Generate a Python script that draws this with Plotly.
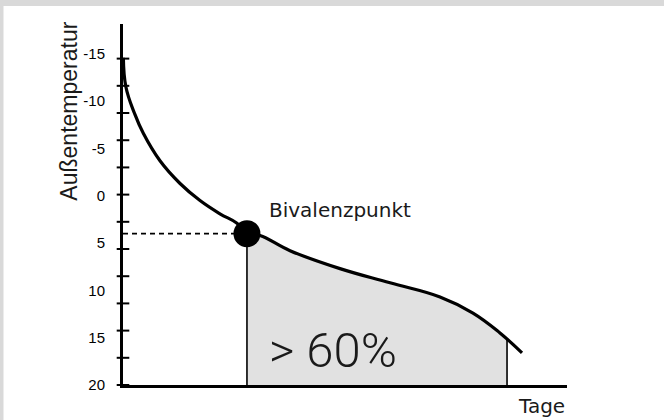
import numpy as np
import plotly.graph_objects as go

# ---- data ----
days = [0.3, 2.4, 9.5, 16.7, 30.4, 46.9, 63.3, 79.7, 93.7, 101.9, 112.6, 137.3,
        178.4, 219.5, 260.6, 287.7, 309.9, 328.0]
temps = [-14.6, -11.5, -8.7, -6.6, -3.7, -1.3, 0.5, 1.9, 2.9, 4.0, 4.2, 5.8,
         7.7, 9.2, 10.7, 12.4, 14.5, 16.6]
y_tick_values = [-15, -10, -5, 0, 5, 10, 15, 20]
y_tick_labels = ["-15", "-10", "-5", "0", "5", "10", "15", "20"]
y_tick_marks = [20, 17.125, 14.25, 11.375, 8.5, 5.625, 2.75, -0.125, -3.0,
                -5.875, -8.75, -11.625, -14.5]
bival_day = 101.9
bival_temp = 4.0
share_end_day = 315.7
share_label = "> 60%"
share_label_pos = (173, 16.35)
bival_label = "Bivalenzpunkt"
bival_label_pos = (118.4, 1.5)
x_range = [0, 365]
y_range = [20, -18.16]
x_title = "Tage"
y_title = "Außentemperatur"

days_a = np.array(days)
temps_a = np.array(temps)
end_temp = float(np.interp(share_end_day, days_a, temps_a))
inside = (days_a > bival_day) & (days_a < share_end_day)
fill_x = [bival_day] + list(days_a[inside]) + [share_end_day]
fill_y = [bival_temp] + list(temps_a[inside]) + [end_temp]

SMOOTH = 1.2

fig = go.Figure()

# baseline for shaded area
fig.add_trace(go.Scatter(x=[bival_day, share_end_day], y=[y_range[0], y_range[0]],
                         mode="lines", line=dict(width=0, color="rgba(0,0,0,0)"),
                         hoverinfo="skip", showlegend=False))
fig.add_trace(go.Scatter(x=fill_x, y=fill_y, mode="lines",
                         line=dict(width=0, shape="spline", smoothing=SMOOTH, color="rgba(0,0,0,0)"),
                         fill="tonexty", fillcolor="#e1e1e1",
                         hoverinfo="skip", showlegend=False))

# vertical edges
fig.add_trace(go.Scatter(x=[bival_day, bival_day], y=[bival_temp, y_range[0]], mode="lines",
                         line=dict(width=1.6, color="black"), showlegend=False))
fig.add_trace(go.Scatter(x=[share_end_day, share_end_day], y=[end_temp, y_range[0]], mode="lines",
                         line=dict(width=1.6, color="black"), showlegend=False))

# dashed line to the axis
fig.add_trace(go.Scatter(x=[x_range[0], bival_day], y=[bival_temp, bival_temp], mode="lines",
                         line=dict(width=1.6, color="black", dash="5px,4px"), showlegend=False))

# curve
fig.add_trace(go.Scatter(x=days, y=temps, mode="lines",
                         line=dict(width=3.2, color="black", shape="spline", smoothing=SMOOTH),
                         showlegend=False))

# y tick marks crossing the axis
fig.add_trace(go.Scatter(x=[x_range[0]] * len(y_tick_marks), y=y_tick_marks, mode="markers",
                         marker=dict(symbol="line-ew", size=9, color="black",
                                     line=dict(width=2, color="black")),
                         cliponaxis=False, showlegend=False))

# Bivalenzpunkt marker
fig.add_trace(go.Scatter(x=[bival_day], y=[bival_temp], mode="markers",
                         marker=dict(size=27, color="black"), cliponaxis=False, showlegend=False))

fig.add_annotation(x=bival_label_pos[0], y=bival_label_pos[1], text=bival_label,
                   showarrow=False, xanchor="left", yanchor="middle",
                   font=dict(family="DejaVu Sans", size=20, color="#1a1a1a"))
fig.add_annotation(x=share_label_pos[0], y=share_label_pos[1], text=share_label,
                   showarrow=False, xanchor="center", yanchor="middle",
                   font=dict(family="Roboto", size=49, color="#1a1a1a", weight=300))
fig.add_annotation(xref="paper", yref="paper", x=1.0, y=-0.058, text=x_title,
                   showarrow=False, xanchor="right", yanchor="middle",
                   font=dict(family="DejaVu Sans", size=20, color="#1a1a1a"))
fig.add_annotation(xref="paper", yref="paper", x=-0.121, y=0.758, text=y_title,
                   textangle=-90, showarrow=False, xanchor="center", yanchor="middle",
                   font=dict(family="Arial", size=23, color="#1a1a1a"))

# white panel over gray frame
fig.add_shape(type="rect", xref="paper", yref="paper", layer="below",
              x0=(3.5 - 123) / 444, x1=(700 - 123) / 444,
              y0=(385 - 440) / 361, y1=(385 - 6) / 361,
              fillcolor="white", line=dict(width=0))

fig.update_layout(
    width=664, height=420,
    margin=dict(l=123, r=97, t=24, b=35),
    paper_bgcolor="#d9d9d9",
    plot_bgcolor="rgba(0,0,0,0)",
    showlegend=False,
    xaxis=dict(range=x_range, showline=True, linewidth=3, linecolor="black",
               showgrid=False, zeroline=False, ticks="", showticklabels=False,
               fixedrange=True),
    yaxis=dict(range=y_range, showline=True, linewidth=3, linecolor="black",
               showgrid=False, zeroline=False, tickmode="array",
               tickvals=y_tick_values, ticktext=y_tick_labels,
               ticks="outside", ticklen=12, tickcolor="rgba(0,0,0,0)",
               tickfont=dict(family="Arial", size=15, color="black"),
               fixedrange=True),
)

fig.write_html("out.html", config={"displayModeBar": False},
               post_script="document.body.style.margin='0';document.body.style.overflow='hidden';")
